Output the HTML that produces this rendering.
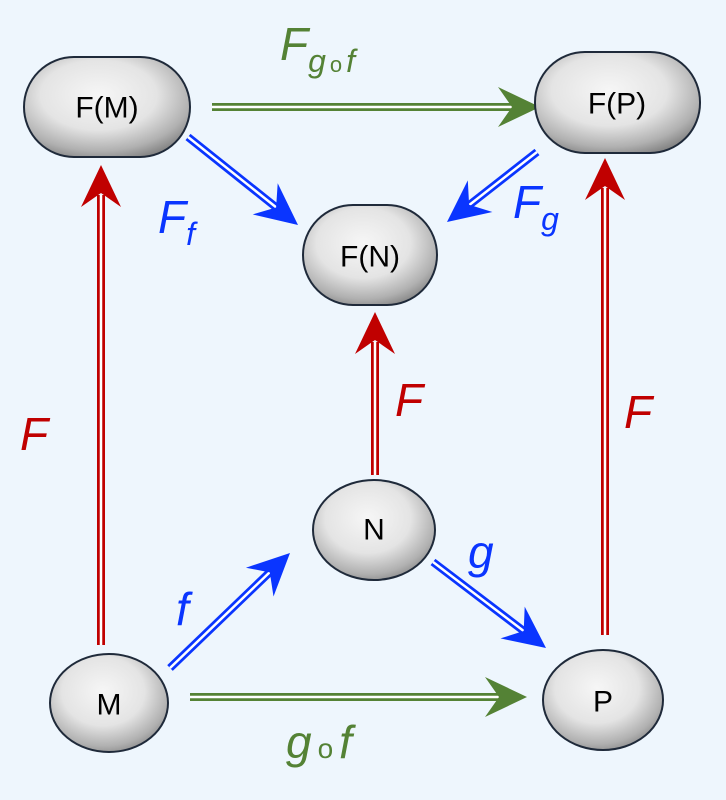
<!DOCTYPE html>
<html><head><meta charset="utf-8"><style>
body{margin:0;background:#eef6fd;}
svg{display:block}
text{font-family:"Liberation Sans",sans-serif;}
.n{font-size:30px;fill:#000;text-anchor:middle;dominant-baseline:central}
.l{font-style:italic;font-size:46px;}
</style></head><body>
<svg width="726" height="800" viewBox="0 0 726 800">
<defs>
<radialGradient id="g" cx="0.45" cy="0.38" r="0.7">
<stop offset="0" stop-color="#f6f6f6"/><stop offset="0.5" stop-color="#e4e4e4"/><stop offset="0.8" stop-color="#b0b0b0"/><stop offset="1" stop-color="#7a7a7a"/></radialGradient>
</defs>
<rect width="726" height="800" fill="#eef6fd"/>
<g fill="none">
<line x1="101" y1="645" x2="101" y2="195" stroke="#c00000" stroke-width="8"/>
<line x1="101" y1="645" x2="101" y2="195" stroke="#fff" stroke-width="2.5"/>
<line x1="605" y1="635" x2="605" y2="188" stroke="#c00000" stroke-width="8"/>
<line x1="605" y1="635" x2="605" y2="188" stroke="#fff" stroke-width="2.5"/>
<line x1="375" y1="475" x2="375" y2="342" stroke="#c00000" stroke-width="8"/>
<line x1="375" y1="475" x2="375" y2="342" stroke="#fff" stroke-width="2.5"/>
<line x1="212" y1="107" x2="514" y2="107" stroke="#548235" stroke-width="8"/>
<line x1="212" y1="107" x2="514" y2="107" stroke="#fff" stroke-width="2.5"/>
<line x1="190" y1="697" x2="501" y2="697" stroke="#548235" stroke-width="8"/>
<line x1="190" y1="697" x2="501" y2="697" stroke="#fff" stroke-width="2.5"/>
<line x1="188" y1="137" x2="277" y2="208" stroke="#0a35ff" stroke-width="8"/>
<line x1="188" y1="137" x2="277" y2="208" stroke="#fff" stroke-width="2.5"/>
<line x1="537" y1="152" x2="468" y2="206" stroke="#0a35ff" stroke-width="8"/>
<line x1="537" y1="152" x2="468" y2="206" stroke="#fff" stroke-width="2.5"/>
<line x1="170" y1="668" x2="271" y2="571" stroke="#0a35ff" stroke-width="8"/>
<line x1="170" y1="668" x2="271" y2="571" stroke="#fff" stroke-width="2.5"/>
<line x1="433" y1="562" x2="525" y2="632" stroke="#0a35ff" stroke-width="8"/>
<line x1="433" y1="562" x2="525" y2="632" stroke="#fff" stroke-width="2.5"/>
</g>
<g fill="#c00000">
<polygon points="101,165 121,207 101,193 81,207"/>
<polygon points="605,158 625,200 605,186 585,200"/>
<polygon points="375,312 395,354 375,340 355,354"/>
</g>
<g fill="#548235">
<polygon points="540,107 498,87 512,107 498,127"/>
<polygon points="527,697 485,677 499,697 485,717"/>
</g>
<g fill="#0a35ff">
<polygon points="298,225 252.7,214.4 276.1,207.5 277.7,183.2"/>
<polygon points="447,222 467.8,180.4 469.1,204.8 492.4,212"/>
<polygon points="290,553 273.5,596.5 269.8,572.4 245.9,567.7"/>
<polygon points="546,648 500.5,638.4 523.7,631 524.7,606.6"/>
</g>
<g stroke="#1f2a3a" stroke-width="2" fill="url(#g)">
<rect x="24" y="57" width="166" height="100" rx="50"/>
<rect x="535" y="52" width="165" height="101" rx="50"/>
<rect x="303" y="205" width="134" height="100" rx="50"/>
<ellipse cx="374" cy="530" rx="61" ry="50"/>
<ellipse cx="109" cy="703" rx="59" ry="49"/>
<ellipse cx="603" cy="700" rx="60" ry="50"/>
</g>
<text class="n" x="107" y="108">F(M)</text>
<text class="n" x="617" y="104">F(P)</text>
<text class="n" x="370" y="257">F(N)</text>
<text class="n" x="374" y="530">N</text>
<text class="n" x="109" y="705">M</text>
<text class="n" x="603" y="702">P</text>
<g class="l">
<text x="280" y="60" fill="#548235">F<tspan font-size="32" dy="12">g</tspan><tspan font-size="22" font-style="normal" dx="4">o</tspan><tspan font-size="32" dx="4">f</tspan></text>
<text x="158" y="233" fill="#0a35ff">F<tspan font-size="32" dy="12">f</tspan></text>
<text x="513" y="218" fill="#0a35ff">F<tspan font-size="32" dy="12">g</tspan></text>
<text x="20" y="450" fill="#c00000">F</text>
<text x="395" y="416" fill="#c00000">F</text>
<text x="624" y="428" fill="#c00000">F</text>
<text x="176" y="625" fill="#0a35ff">f</text>
<text x="468" y="568" fill="#0a35ff">g</text>
<text x="286" y="758" fill="#548235">g<tspan font-size="28" font-style="normal" dx="6">o</tspan><tspan dx="6">f</tspan></text>
</g>
</svg>
</body></html>
